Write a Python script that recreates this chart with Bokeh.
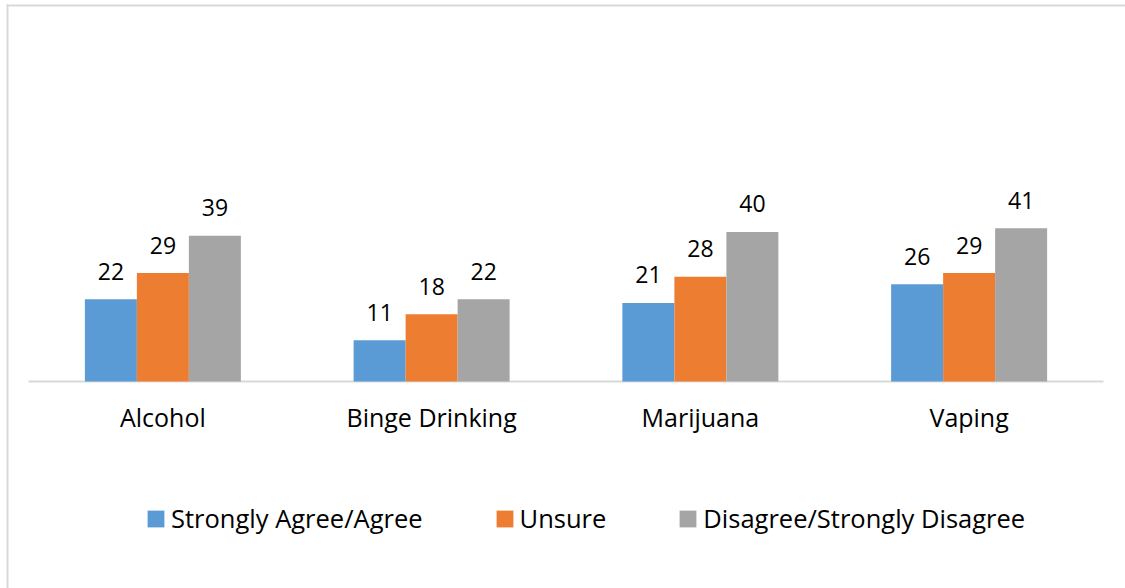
from bokeh.plotting import figure
from bokeh.models import ColumnDataSource, Range1d, Legend, LegendItem
from bokeh.core.properties import value
from bokeh.embed import file_html
from bokeh.resources import INLINE

# ---- data ----
categories = ["Alcohol", "Binge Drinking", "Marijuana", "Vaping"]
series_names = ["Strongly Agree/Agree", "Unsure", "Disagree/Strongly Disagree"]
agree = [22, 11, 21, 26]
unsure = [29, 18, 28, 29]
disagree = [39, 22, 40, 41]
colors = ["#5B9BD5", "#ED7D31", "#A5A5A5"]

# ---- layout (pixels) ----
FONT = "Open Sans"
W, H = 1125, 588
PLOT_LEFT, PLOT_RIGHT = 28, 1103     # category band extent
BASELINE = 381                        # pixel row of value 0
PX_PER_UNIT = 3.74
GROUP_PX = (PLOT_RIGHT - PLOT_LEFT) / len(categories)
BAR_W = 52 / GROUP_PX
BORDER_X, BORDER_Y = 7, 5             # chart-area border (left / top)


def px_to_x(px):
    return (px - PLOT_LEFT) / GROUP_PX


def py_to_y(py):
    return (BASELINE - py) / PX_PER_UNIT


n = len(categories)
xc = [i + 0.5 for i in range(n)]

source = ColumnDataSource(dict(
    x=xc, cat=categories,
    agree=agree, unsure=unsure, disagree=disagree,
    agree_lbl=[str(v) for v in agree],
    unsure_lbl=[str(v) for v in unsure],
    disagree_lbl=[str(v) for v in disagree],
))

p = figure(
    x_range=Range1d(px_to_x(0), px_to_x(W)),
    y_range=Range1d(py_to_y(H), py_to_y(0)),
    width=W, height=H, output_backend="svg", toolbar_location=None,
    x_axis_location=None, y_axis_location=None,
    min_border=0,
)
p.outline_line_color = None
p.outline_line_alpha = 0
p.xgrid.grid_line_color = None
p.ygrid.grid_line_color = None
p.background_fill_color = "white"
p.border_fill_color = "white"

# chart-area border (left and top edges)
p.segment(x0=[px_to_x(BORDER_X), px_to_x(BORDER_X - 1)],
          x1=[px_to_x(BORDER_X), px_to_x(W + 10)],
          y0=[py_to_y(BORDER_Y - 1), py_to_y(BORDER_Y)],
          y1=[py_to_y(H + 10), py_to_y(BORDER_Y)],
          line_color="#d9d9d9", line_width=2)

# category baseline (x axis line)
p.segment(x0=[0], x1=[n], y0=[0], y1=[0], line_color="#d9d9d9", line_width=2)

fields = ["agree", "unsure", "disagree"]
offsets = [-BAR_W, 0.0, BAR_W]
items = []
for f, off, c, name in zip(fields, offsets, colors, series_names):
    xs = [x + off for x in xc]
    r = p.vbar(x=xs, top=source.data[f], width=BAR_W, bottom=0,
               fill_color=c, line_color=None)
    p.text(x=xs, y=source.data[f], text=source.data[f + "_lbl"],
           text_align="center", text_baseline="alphabetic",
           y_offset=-28, text_font=value(FONT), text_font_size="23px",
           text_color="#000000")
    items.append(LegendItem(label=name, renderers=[r]))

# category labels
p.text(x="x", y=0, text="cat", source=source, text_align="center",
       text_baseline="alphabetic", y_offset=35, text_font=value(FONT),
       text_font_size="25px", text_color="#000000")

legend = Legend(items=items, orientation="horizontal", location=(145, H - 535),
                glyph_width=21, glyph_height=21, label_standoff=5, spacing=71,
                label_text_font=FONT, label_text_font_size="25.5px",
                label_text_color="#000000", border_line_color=None,
                background_fill_alpha=0, padding=10)
p.add_layout(legend, "center")

open("out.html", "w").write(file_html(p, INLINE))
